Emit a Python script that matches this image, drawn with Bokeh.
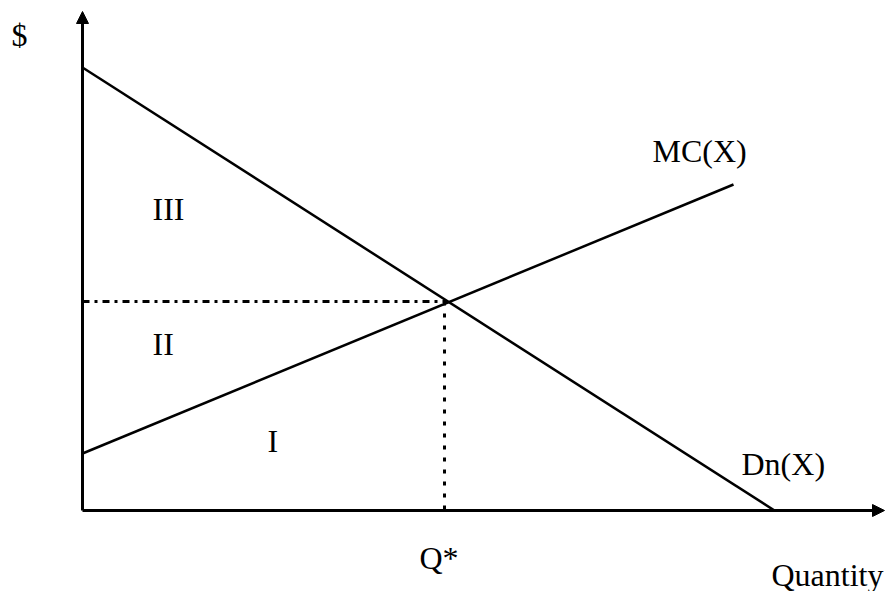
from bokeh.plotting import figure
from bokeh.models import Arrow, NormalHead, Range1d
from bokeh.core.properties import value
from bokeh.embed import file_html
from bokeh.resources import INLINE

# Economic diagram values (data units, origin at the axes corner)
demand_q = [0, 692]
demand_p = [443, 0]
mc_q = [0, 651]
mc_p = [57, 326]
q_star = 365
p_star = 209
y_axis_top = 499
x_axis_end = 802

labels = ["$", "III", "II", "I", "MC(X)", "Dn(X)", "Q*", "Quantity"]
label_x = [-71, 70, 70, 185, 570, 659, 337, 689]
label_y = [476, 302, 167, 70, 360, 47, -47, -64]

p = figure(width=885, height=591, output_backend="svg", toolbar_location=None,
           x_range=Range1d(-82, 803), y_range=Range1d(-81, 510),
           min_border=0, outline_line_color=None)
p.xaxis.visible = False
p.yaxis.visible = False
p.xgrid.visible = False
p.ygrid.visible = False
p.background_fill_color = "white"
p.border_fill_color = "white"

# axes with arrowheads
p.add_layout(Arrow(end=NormalHead(size=12, line_color="black", fill_color="black", line_width=1),
                   x_start=0, y_start=0, x_end=0, y_end=y_axis_top, line_width=3, line_color="black"))
p.add_layout(Arrow(end=NormalHead(size=12, line_color="black", fill_color="black", line_width=1),
                   x_start=0, y_start=0, x_end=x_axis_end, y_end=0, line_width=3, line_color="black"))

# demand and MC curves
p.line(demand_q, demand_p, line_color="black", line_width=2.5)
p.line(mc_q, mc_p, line_color="black", line_width=2.5)

# equilibrium guide lines
p.line([0, q_star], [p_star, p_star], line_color="black", line_width=3, line_dash="7 5 3 5")
p.line([q_star - 3, q_star - 3], [p_star, 0], line_color="black", line_width=3, line_dash="4 8")

p.text(x=label_x, y=label_y, text=labels, text_align="left", text_baseline="alphabetic",
       text_font=value("Liberation Serif"), text_font_size="32px", text_color="black")

open("out.html", "w").write(file_html(p, INLINE))
